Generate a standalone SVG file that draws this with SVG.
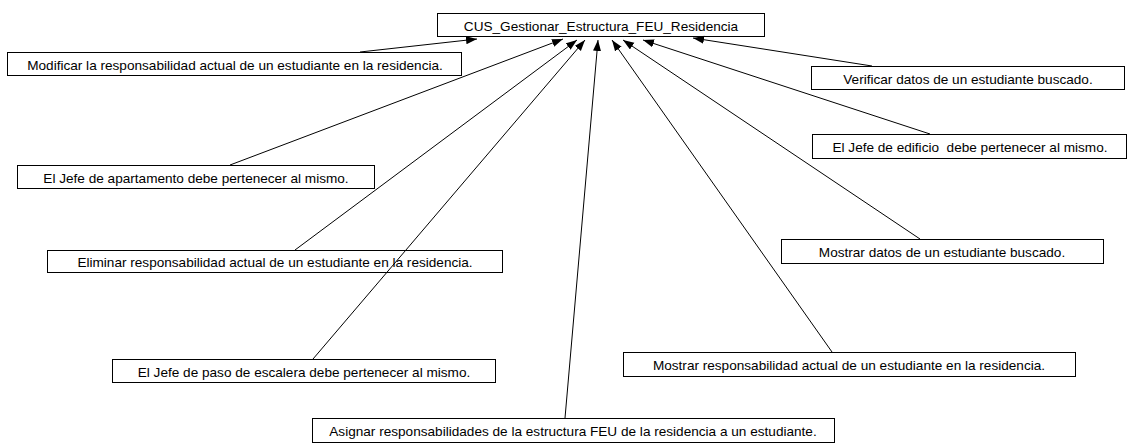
<svg xmlns="http://www.w3.org/2000/svg" width="1129" height="446" viewBox="0 0 1129 446">
  <defs>
    <marker id="arrow" markerUnits="userSpaceOnUse" markerWidth="12" markerHeight="9" refX="11" refY="4" orient="auto">
      <path d="M0,0 L11,4 L0,8 z" fill="#000"/>
    </marker>
    <style>
      .box { fill: #fff; stroke: #000; stroke-width: 1; shape-rendering: crispEdges; }
      .lbl { font-family: "Liberation Sans", Arial, sans-serif; font-size: 13.6px; fill: #000; text-anchor: middle; }
      .link { stroke: #000; stroke-width: 1; fill: none; marker-end: url(#arrow); }
    </style>
  </defs>
  <rect width="1129" height="446" fill="#fff"/>

  <g id="cus-main">
    <rect class="box" x="437.5" y="13.5" width="327" height="23"/>
    <text class="lbl" x="601" y="31">CUS_Gestionar_Estructura_FEU_Residencia</text>
  </g>

  <g id="modificar">
    <rect class="box" x="7.5" y="52.5" width="454" height="23"/>
    <text class="lbl" x="235" y="70">Modificar la responsabilidad actual de un estudiante en la residencia.</text>
  </g>

  <g id="verificar">
    <rect class="box" x="811.5" y="66.5" width="313" height="23"/>
    <text class="lbl" x="968" y="84">Verificar datos de un estudiante buscado.</text>
  </g>

  <g id="jefe-edificio">
    <rect class="box" x="812.5" y="134.5" width="314" height="24"/>
    <text class="lbl" x="970" y="152" xml:space="preserve">El Jefe de edificio  debe pertenecer al mismo.</text>
  </g>

  <g id="jefe-apartamento">
    <rect class="box" x="17.5" y="165.5" width="357" height="23"/>
    <text class="lbl" x="196" y="183">El Jefe de apartamento debe pertenecer al mismo.</text>
  </g>

  <g id="mostrar-datos">
    <rect class="box" x="781.5" y="239.5" width="322" height="24"/>
    <text class="lbl" x="942" y="257">Mostrar datos de un estudiante buscado.</text>
  </g>

  <g id="eliminar">
    <rect class="box" x="47.5" y="250.5" width="455" height="22"/>
    <text class="lbl" x="275" y="267">Eliminar responsabilidad actual de un estudiante en la residencia.</text>
  </g>

  <g id="mostrar-responsabilidad">
    <rect class="box" x="623.5" y="352.5" width="452" height="24"/>
    <text class="lbl" x="849" y="370">Mostrar responsabilidad actual de un estudiante en la residencia.</text>
  </g>

  <g id="jefe-paso-escalera">
    <rect class="box" x="112.5" y="359.5" width="383" height="23"/>
    <text class="lbl" x="304" y="377">El Jefe de paso de escalera debe pertenecer al mismo.</text>
  </g>

  <g id="asignar">
    <rect class="box" x="312.5" y="418.5" width="522" height="24"/>
    <text class="lbl" x="573" y="436">Asignar responsabilidades de la estructura FEU de la residencia a un estudiante.</text>
  </g>

  <!-- associations pointing to the main use case, drawn above the boxes -->
  <g id="connectors">
    <line class="link" x1="360" y1="52" x2="477" y2="39"/>
    <line class="link" x1="230" y1="165" x2="563" y2="39"/>
    <line class="link" x1="295" y1="250" x2="577" y2="40"/>
    <line class="link" x1="313" y1="359" x2="585" y2="40"/>
    <line class="link" x1="565" y1="418" x2="598" y2="40"/>
    <line class="link" x1="832" y1="352" x2="612" y2="40"/>
    <line class="link" x1="920" y1="239" x2="623" y2="40"/>
    <line class="link" x1="930" y1="134" x2="643" y2="40"/>
    <line class="link" x1="872" y1="66" x2="693" y2="38"/>
  </g>
</svg>
